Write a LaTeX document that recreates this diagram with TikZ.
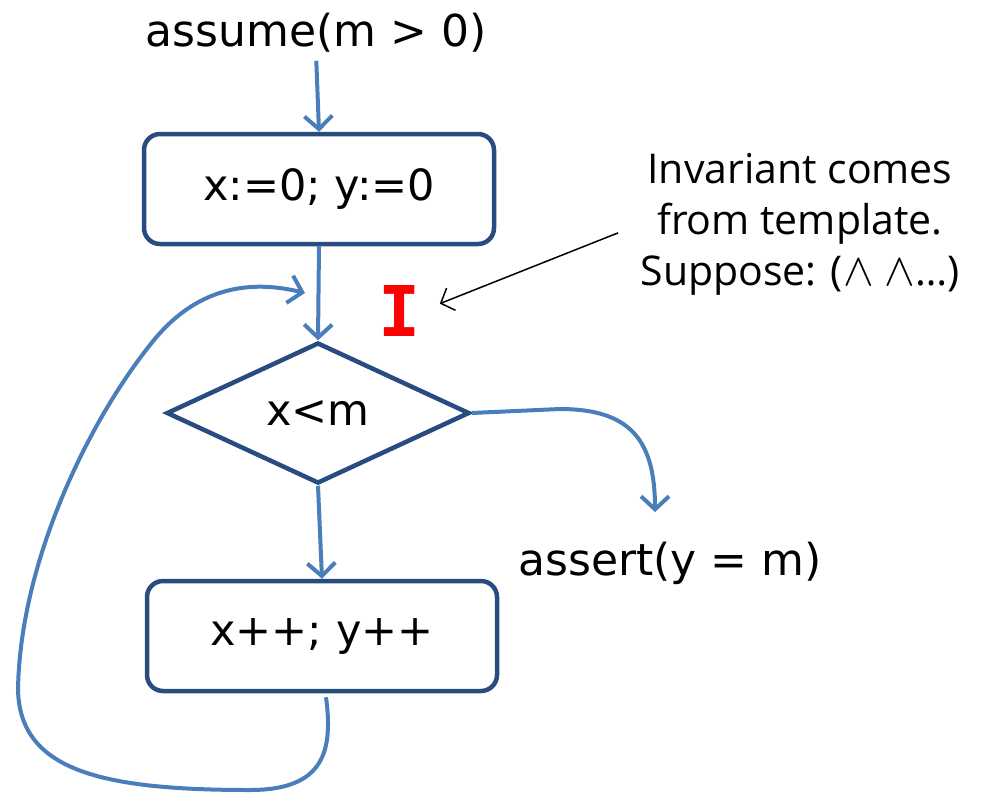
\documentclass[tikz,border=0pt]{standalone}
\usepackage{fix-cm}
\usepackage{fontspec}
\setmainfont{DejaVu Sans}
\setmonofont{DejaVu Sans Mono}
\newfontfamily\notefont{Open Sans}
\usepackage{xcolor}
\definecolor{flowblue}{RGB}{74,126,187}
\definecolor{boxblue}{RGB}{40,76,128}
\definecolor{invred}{RGB}{255,0,0}
\usetikzlibrary{shapes.geometric, arrows.meta, positioning}

\begin{document}
\begin{tikzpicture}[x=1pt, y=-1pt,
  stmt/.style={rectangle, rounded corners=16pt, draw=boxblue, line width=4.5pt, minimum width=350pt, minimum height=110pt, inner sep=0pt, font=\fontsize{43}{48}\selectfont},
  test/.style={diamond, aspect=2.13, draw=boxblue, line width=4.5pt, minimum width=303pt, minimum height=141pt, inner sep=0pt, font=\fontsize{43}{48}\selectfont},
  txt/.style={inner sep=0pt, font=\fontsize{44}{48}\selectfont},
  flow/.style={draw=flowblue, line width=4pt, -{Straight Barb[length=13pt, width=28pt, line width=4pt]}},
  pointer/.style={draw=black, line width=1.5pt, -{Straight Barb[length=11pt, width=24pt, line width=1.5pt]}}
]
  \useasboundingbox (0,0) rectangle (985,796);

  \node[txt] (pre) at (316,33) {assume(m > 0)};
  \node[stmt] (init) at (319,189) {x:=0; y:=0};
  \node[test] (loop) at (318,413) {x<m};
  \node[stmt] (body) at (322,636) {x++; y++};
  \node[txt] (post) at (670,563) {assert(y = m)};

  \node[inner sep=0pt, text=invred, font=\ttfamily\bfseries\fontsize{70}{70}\selectfont] (inv) at (400,311) {I};
  \node[align=center, inner sep=0pt, font=\notefont\fontsize{41}{51}\selectfont] (note) at (800,224)
    {Invariant comes\\ from template.\\ Suppose: ({\fontsize{46}{46}\selectfont$\wedge$} {\fontsize{46}{46}\selectfont$\wedge$}…)};

  \coordinate (entry) at (305,293);
  \coordinate (exit) at (655,512);

  \draw[flow, shorten <=8pt] (pre.south) -- (init.north);
  \draw[flow] (init.south) -- (loop.north);
  \draw[flow] (loop.south) -- (body.north);
  \draw[flow] (loop.east) -- (560,409) .. controls (630,409) and (655,440) .. (exit);
  \draw[flow] ([xshift=4pt,yshift=-4pt]body.south) .. controls (333,750) and (325,790) .. (250,790)
    .. controls (100,790) and (20,770) .. (18,690)
    .. controls (20,560) and (90,420) .. (150,345)
    .. controls (200,280) and (260,282) .. (entry);

  \draw[pointer, shorten <=24pt, shorten >=20pt] (note.west) -- (inv.east);
\end{tikzpicture}
\end{document}
